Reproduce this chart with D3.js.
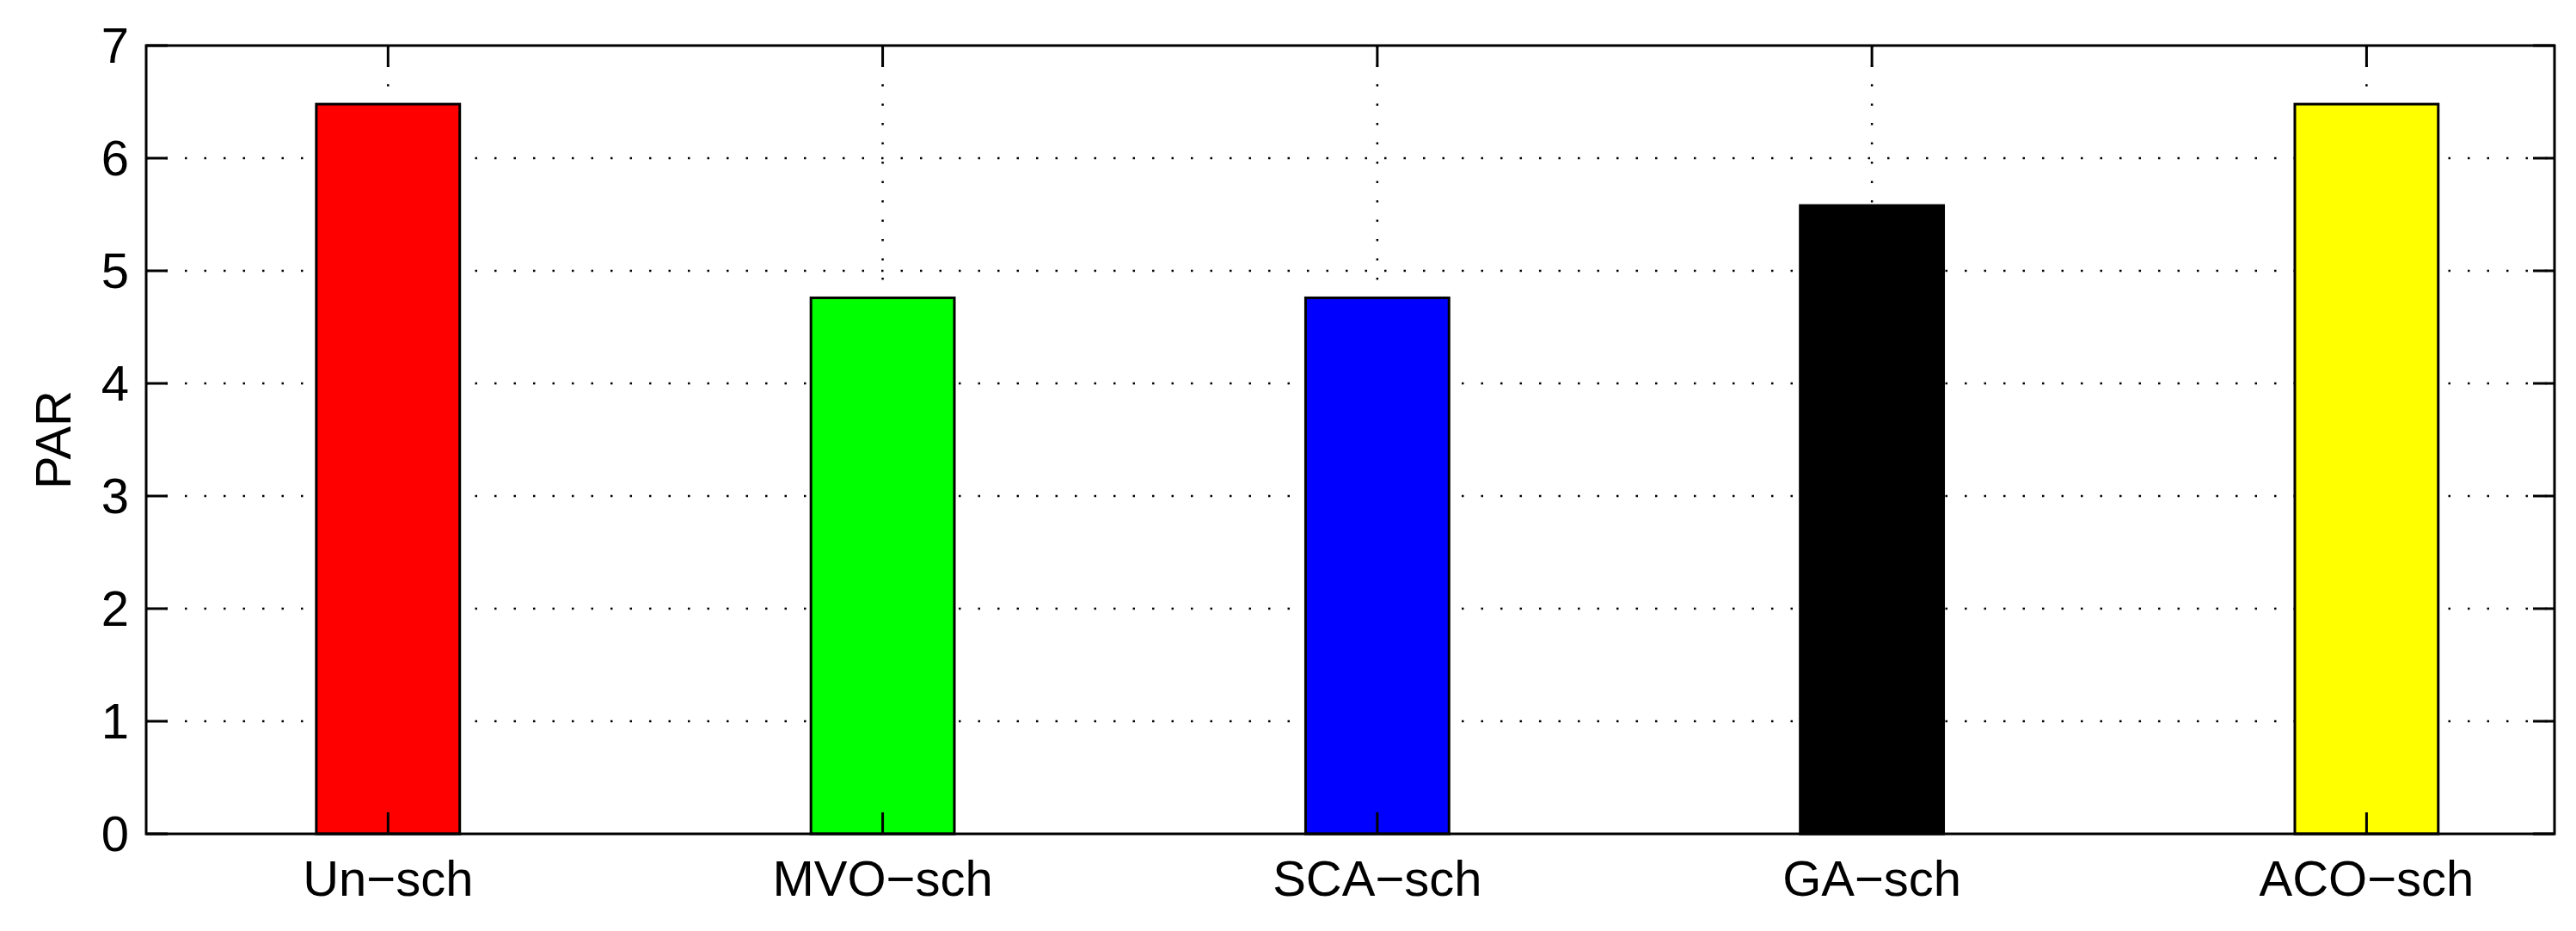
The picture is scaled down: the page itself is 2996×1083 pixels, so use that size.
<!DOCTYPE html><html><head><script src="https://cdn.jsdelivr.net/npm/d3@7"></script>
<style>body{margin:0;background:#fff}</style></head><body><svg id="c" width="2996" height="1083"></svg>
<script>
const categories=["Un\u2212sch","MVO\u2212sch","SCA\u2212sch","GA\u2212sch","ACO\u2212sch"];
const values=[6.48,4.76,4.76,5.58,6.48];
const colors=["#ff0000","#00ff00","#0000ff","#000000","#ffff00"];
const yTicks=[0,1,2,3,4,5,6,7];
const L=170,R=2971,T=53,B=970;
const svg=d3.select("#c");
const x=d3.scaleLinear().domain([0.511,5.38]).range([L,R]);
const y=d3.scaleLinear().domain([0,7]).range([B,T]);
const f="Liberation Sans, Arial, sans-serif";
const g=svg.append("g");
yTicks.slice(1,-1).forEach(t=>g.append("line").attr("x1",L).attr("x2",R).attr("y1",y(t)).attr("y2",y(t)).attr("stroke","#000").attr("stroke-width",2.5).attr("stroke-dasharray","2.5,20"));
categories.forEach((c,i)=>g.append("line").attr("x1",x(i+1)).attr("x2",x(i+1)).attr("y1",T).attr("y2",B).attr("stroke","#000").attr("stroke-width",2.5).attr("stroke-dasharray","2.5,20"));
const bw=x(1.29)-x(1);
g.selectAll("rect.b").data(values).join("rect").attr("x",(d,i)=>x(i+1)-bw/2).attr("width",bw).attr("y",d=>y(d)).attr("height",d=>B-y(d)).attr("fill",(d,i)=>colors[i]).attr("stroke","#000").attr("stroke-width",3);
g.append("rect").attr("x",L).attr("y",T).attr("width",R-L).attr("height",B-T).attr("fill","none").attr("stroke","#000").attr("stroke-width",3);
const tl=25;
yTicks.forEach(t=>{g.append("line").attr("x1",L).attr("x2",L+tl).attr("y1",y(t)).attr("y2",y(t)).attr("stroke","#000").attr("stroke-width",3);
g.append("line").attr("x1",R).attr("x2",R-tl).attr("y1",y(t)).attr("y2",y(t)).attr("stroke","#000").attr("stroke-width",3);
g.append("text").attr("x",L-20).attr("y",y(t)+20).attr("text-anchor","end").attr("font-family",f).attr("font-size",58).text(t);});
categories.forEach((c,i)=>{g.append("line").attr("x1",x(i+1)).attr("x2",x(i+1)).attr("y1",T).attr("y2",T+tl).attr("stroke","#000").attr("stroke-width",3);
g.append("line").attr("x1",x(i+1)).attr("x2",x(i+1)).attr("y1",B).attr("y2",B-tl).attr("stroke","#000").attr("stroke-width",3);
g.append("text").attr("x",x(i+1)).attr("y",B+72).attr("text-anchor","middle").attr("font-family",f).attr("font-size",58).text(c);});
g.append("text").attr("transform",`translate(82,${(T+B)/2}) rotate(-90)`).attr("text-anchor","middle").attr("font-family",f).attr("font-size",58).text("PAR");
</script></body></html>
